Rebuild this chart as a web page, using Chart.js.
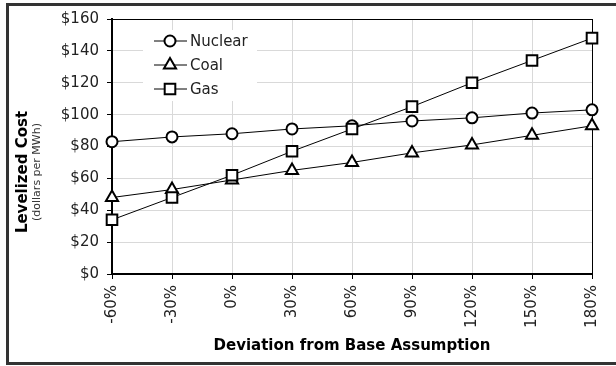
<!DOCTYPE html>
<html>
<head>
<meta charset="utf-8">
<script src="https://cdn.jsdelivr.net/npm/chart.js@4/dist/chart.umd.min.js"></script>
<style>
    html, body { margin: 0; padding: 0; background: #fff; }
    #wrap { position: relative; width: 616px; height: 366px; overflow: hidden; }
    #frame {
        position: absolute; left: 6px; top: 3px; width: 700px; height: 362px;
        box-sizing: border-box; border: 3px solid #333;
    }
    #costChart { position: absolute; left: 0; top: 0; }
</style>
</head>
<body>
<div id="wrap">
    <div id="frame"></div>
    <canvas id="costChart" width="616" height="366"></canvas>
</div>
<script>
// データ
const categories = ['-60%', '-30%', '0%', '30%', '60%', '90%', '120%', '150%', '180%'];
const nuclear = [83, 86, 88, 91, 93, 96, 98, 101, 103];
const coal = [48, 53, 59, 65, 70, 76, 81, 87, 93];
const gas = [34, 48, 62, 77, 91, 105, 120, 134, 148];
const yMin = 0, yMax = 160, yStep = 20;

const FONT = 'DejaVu Sans';
const GRID = '#d9d9d9';
const TEXT = '#222';

// 凡例の行（グラフ内に描く）
const legendRows = [
    { label: 'Nuclear', style: 'circle', radius: 5.5 },
    { label: 'Coal', style: 'triangle', radius: 7 },
    { label: 'Gas', style: 'rect', radius: 7.5 }
];

function drawMarker(ctx, style, r, x, y) {
    ctx.beginPath();
    if (style === 'circle') {
        ctx.arc(x, y, r, 0, Math.PI * 2);
    } else if (style === 'triangle') {
        for (let i = 0; i < 3; i++) {
            const a = i * 2 * Math.PI / 3;
            const px = x + Math.sin(a) * r, py = y - Math.cos(a) * r;
            if (i === 0) ctx.moveTo(px, py); else ctx.lineTo(px, py);
        }
        ctx.closePath();
    } else {
        const s = r * Math.SQRT1_2;
        ctx.rect(x - s, y - s, 2 * s, 2 * s);
    }
    ctx.fillStyle = '#fff';
    ctx.fill();
    ctx.lineWidth = 2;
    ctx.strokeStyle = '#000';
    ctx.stroke();
}

const insideLegend = {
    id: 'insideLegend',
    beforeDatasetsDraw(chart) {
        const ctx = chart.ctx;
        ctx.save();
        ctx.fillStyle = '#fff';
        ctx.fillRect(143, 30, 114, 71);
        legendRows.forEach((row, i) => {
            const y = 41 + i * 24;
            ctx.beginPath();
            ctx.moveTo(154, y);
            ctx.lineTo(187, y);
            ctx.lineWidth = 1;
            ctx.strokeStyle = '#000';
            ctx.stroke();
            drawMarker(ctx, row.style, row.radius, 170, y);
            ctx.fillStyle = TEXT;
            ctx.font = '15px "' + FONT + '"';
            ctx.textBaseline = 'middle';
            ctx.textAlign = 'left';
            ctx.fillText(row.label, 190, y + 1);
        });
        ctx.restore();
    }
};

// 軸タイトル（縦は2行でフォントが違うので自前で描く）
const axisTitles = {
    id: 'axisTitles',
    afterDraw(chart) {
        const ctx = chart.ctx;
        const area = chart.chartArea;
        ctx.save();
        ctx.fillStyle = '#000';
        ctx.textAlign = 'center';
        ctx.textBaseline = 'middle';
        ctx.font = 'bold 15px "' + FONT + '"';
        ctx.fillText('Deviation from Base Assumption', (area.left + area.right) / 2, 346);

        ctx.translate(23, 172);
        ctx.rotate(-Math.PI / 2);
        ctx.font = 'bold 15px "' + FONT + '"';
        ctx.fillText('Levelized Cost', 0, 0);
        ctx.font = '11px "' + FONT + '"';
        ctx.fillStyle = '#333';
        ctx.fillText('(dollars per MWh)', 0, 14);
        ctx.restore();
    }
};

function series(label, data, style, radius, order) {
    return {
        label: label,
        data: data,
        borderColor: '#000',
        borderWidth: 1,
        pointStyle: style,
        pointRadius: radius,
        pointBorderWidth: 2,
        pointBackgroundColor: '#fff',
        pointBorderColor: '#000',
        tension: 0,
        clip: false,
        order: order
    };
}

Chart.defaults.font.family = FONT;
Chart.defaults.font.size = 15;
Chart.defaults.color = TEXT;

new Chart(document.getElementById('costChart'), {
    type: 'line',
    data: {
        labels: categories,
        datasets: [
            series('Nuclear', nuclear, 'circle', 5.5, 3),
            series('Coal', coal, 'triangle', 7, 2),
            series('Gas', gas, 'rect', 7.5, 1)
        ]
    },
    options: {
        responsive: false,
        animation: false,
        layout: { padding: { left: 0, top: 19, right: 12, bottom: 0 } },
        plugins: {
            legend: { display: false },
            tooltip: { enabled: false }
        },
        scales: {
            x: {
                offset: false,
                grid: {
                    color: c => c.index === categories.length - 1 ? '#000' : GRID,
                    tickColor: '#000',
                    tickLength: 5,
                    lineWidth: 1
                },
                border: { color: '#000', width: 2 },
                ticks: { maxRotation: 90, minRotation: 90, padding: 6, color: TEXT },
                afterFit: s => { s.height = 92; }
            },
            y: {
                min: yMin,
                max: yMax,
                grid: {
                    color: c => c.tick && c.tick.value === yMax ? '#000' : GRID,
                    tickColor: '#000',
                    tickLength: 5,
                    lineWidth: 1
                },
                border: { color: '#000', width: 2 },
                ticks: {
                    stepSize: yStep,
                    padding: 8,
                    color: TEXT,
                    callback: v => '$' + v
                },
                afterFit: s => { s.width = 112; }
            }
        }
    },
    plugins: [insideLegend, axisTitles]
});
</script>
</body>
</html>
